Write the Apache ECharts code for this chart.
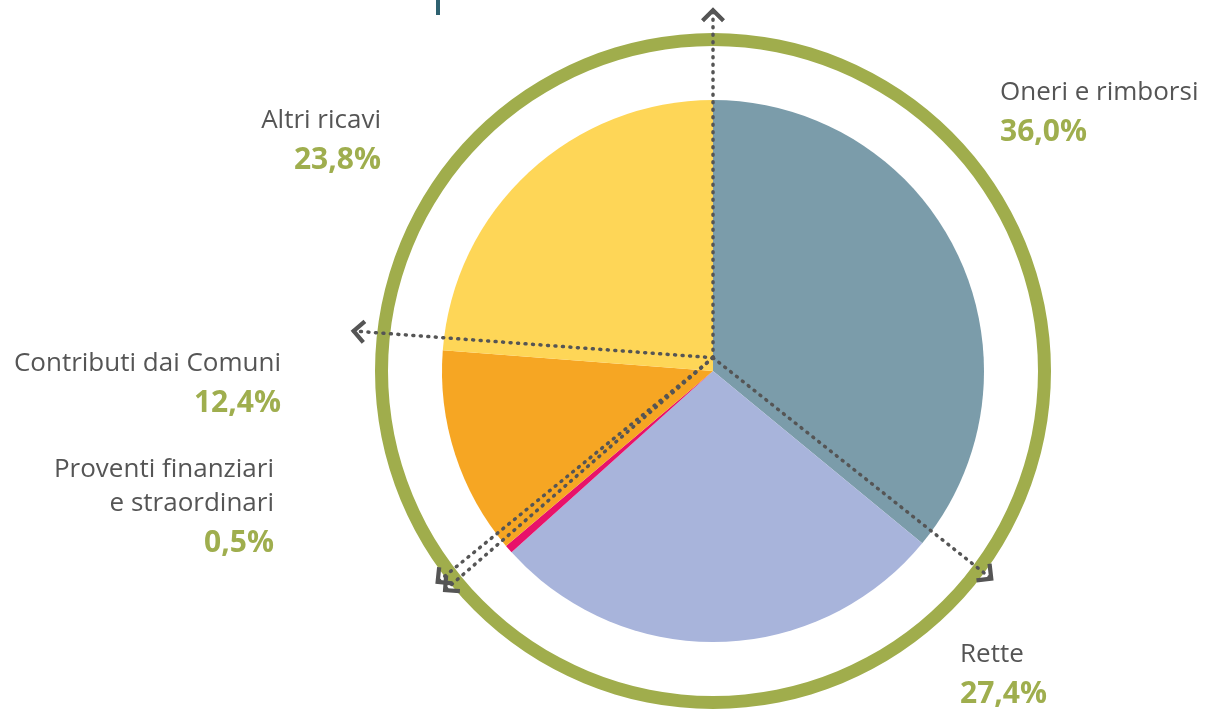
<!DOCTYPE html>
<html>
<head>
<meta charset="utf-8">
<script src="https://cdn.jsdelivr.net/npm/echarts@6/dist/echarts.min.js"></script>
<style>
html,body{margin:0;padding:0;background:#fff;}
#chart{width:1209px;height:713px;}
</style>
</head>
<body>
<div id="chart"></div>
<script>
// ---- data ----
const categories = ['Oneri e rimborsi', 'Rette', 'Proventi finanziari\ne straordinari', 'Contributi dai Comuni', 'Altri ricavi'];
const shares = [36.0, 27.4, 0.5, 12.4, 23.8];
const sliceColors = ['#7b9caa', '#a8b4db', '#e8126a', '#f6a623', '#fed657'];

// ---- layout (not data) ----
const CX = 713, CY = 371, R = 271;
const labelPos = [
  {x: 1000, y: 76, align: 'left'},
  {x: 960, y: 638, align: 'left'},
  {x: 274, y: 453, align: 'right'},
  {x: 281, y: 347, align: 'right'},
  {x: 381, y: 104, align: 'right'}
];

const total = shares.reduce((a, b) => a + b, 0);
// boundary lines (start of each slice), in units of pie radius, from centre
const arrowLen = 1.33;
const arrows = [];
let acc = 0;
shares.forEach(v => {
  const th = acc / total * 2 * Math.PI;
  arrows.push({coords: [[0, 0], [Math.sin(th) * arrowLen, Math.cos(th) * arrowLen]]});
  acc += v;
});

const fmtPct = v => v.toFixed(1).replace('.', ',') + '%';
const chart = echarts.init(document.getElementById('chart'));
const halfW = 1.5, halfH = 1.36;

chart.setOption({
  animation: false,
  backgroundColor: '#fff',
  grid: {left: CX - halfW * R, top: CY - halfH * R, width: 2 * halfW * R, height: 2 * halfH * R},
  xAxis: {type: 'value', min: -halfW, max: halfW, show: false},
  yAxis: {type: 'value', min: -halfH, max: halfH, show: false},
  graphic: [{type: 'rect', shape: {x: 436, y: 0, width: 4, height: 15}, style: {fill: '#2e6170'}}],
  series: [
    {
      type: 'pie', silent: true, center: [CX, CY], radius: [325, 338],
      label: {show: false}, labelLine: {show: false},
      data: [{value: 1, itemStyle: {color: '#a0ad4c'}}], z: 1
    },
    {
      type: 'pie', silent: true, center: [CX, CY], radius: [0, R],
      startAngle: 90, clockwise: true,
      data: categories.map((c, i) => ({name: c, value: shares[i], itemStyle: {color: sliceColors[i]}})),
      label: {
        show: true, position: 'outside', overflow: 'none', width: 400,
        formatter: p => p.name.split('\n').map(s => '{n|' + s + '}').join('\n') + '\n{v|' + fmtPct(p.value) + '}',
        rich: {
          n: {fontFamily: 'Open Sans', fontSize: 26, color: '#555555', lineHeight: 34},
          v: {fontFamily: 'Open Sans', fontSize: 30, fontWeight: 'bold', color: '#9fae4e', lineHeight: 44}
        }
      },
      labelLine: {show: false},
      labelLayout: p => ({x: labelPos[p.dataIndex].x, y: labelPos[p.dataIndex].y, align: labelPos[p.dataIndex].align, verticalAlign: 'top'}),
      z: 2
    },
    {
      type: 'lines', coordinateSystem: 'cartesian2d', silent: true, z: 10,
      symbol: ['none', 'path://M0,12 L12,0 L24,12 L21,15 L12,6 L3,15 Z M12,-9 L12.02,-9 L12,-8.98 Z'],
      symbolSize: 24,
      lineStyle: {color: '#555555', width: 3.5, type: [1, 6.5], cap: 'round', opacity: 1},
      itemStyle: {color: '#555555'},
      data: arrows
    }
  ]
});
</script>
</body>
</html>
